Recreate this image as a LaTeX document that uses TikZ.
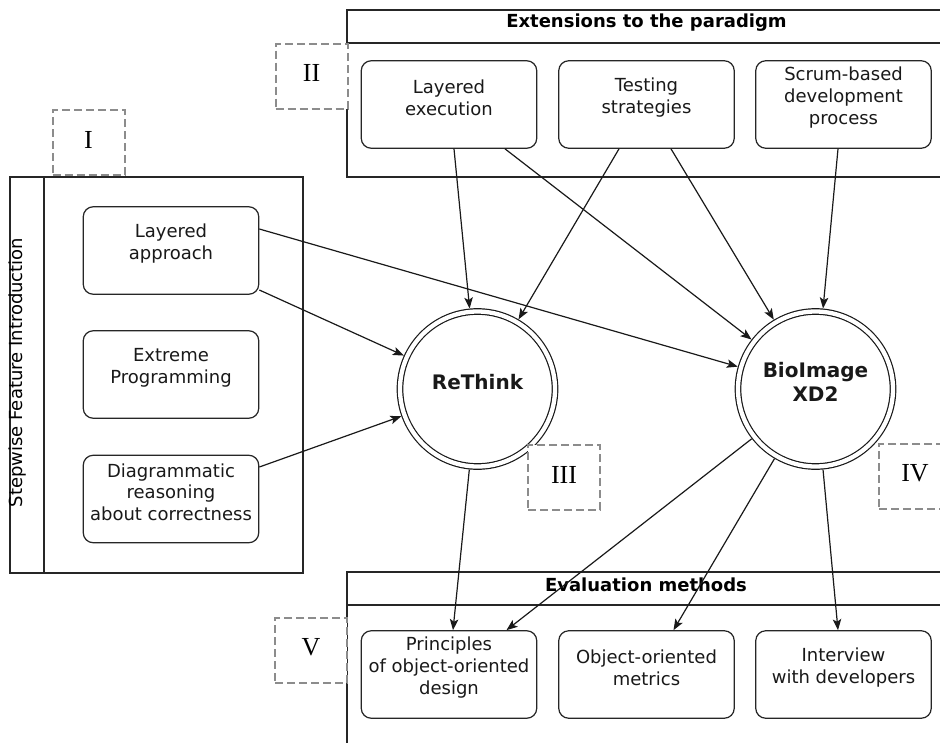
\documentclass[tikz,border=0pt]{standalone}
\usepackage{fontspec}
\setmainfont{DejaVu Sans}
\newfontfamily\numeralfont{Liberation Serif}
\usetikzlibrary{arrows.meta}

\begin{document}
\begin{tikzpicture}[x=1pt,y=-1pt,
  frame/.style={draw=black!85, line width=1.3pt},
  stepbox/.style={draw=black!85, line width=1.2pt, rounded corners=10pt, fill=white,
    minimum width=175.5pt, minimum height=87.5pt, inner sep=0pt},
  boxtext/.style={align=center, font=\fontsize{18pt}{21.7pt}\selectfont,
    text=black!90, yshift=7pt, inner sep=0pt},
  hub/.style={circle, draw=black!90, line width=1.2pt, double=white,
    double distance=4.3pt, minimum size=155pt, inner sep=0pt, outer sep=3.4pt},
  hubtext/.style={align=center, font=\fontsize{20pt}{24.7pt}\selectfont\bfseries,
    text=black!90, yshift=7pt, inner sep=0pt},
  head/.style={font=\fontsize{18pt}{21.7pt}\selectfont\bfseries, anchor=base, inner sep=0pt},
  marker/.style={draw=gray!90, dash pattern=on 8pt off 4pt, line width=2pt, fill=white,
    minimum width=72pt, minimum height=65pt, inner sep=0pt},
  markertext/.style={font=\numeralfont\fontsize{26pt}{30pt}\selectfont, yshift=3pt, inner sep=0pt},
  link/.style={-{Stealth[length=11pt,width=8.5pt,inset=2.5pt]}, line width=1.2pt, draw=black!90}
]
\useasboundingbox (0,0) rectangle (940,742);
\clip (0,0) rectangle (940,742);

% swimlane frames
\draw[frame] (347,10) rectangle (950,177);
\draw[frame] (347,43) -- (950,43);
\node[head] (exttitle) at (646.5,27.5) {Extensions to the paradigm};

\draw[frame] (10,177) rectangle (303,573);
\draw[frame] (44,177) -- (44,573);
\node[font=\fontsize{18pt}{21.7pt}\selectfont, rotate=90, anchor=base, inner sep=0pt]
  (sfititle) at (23,372.5) {Stepwise Feature Introduction};

\draw[frame] (347,572) rectangle (950,760);
\draw[frame] (347,605) -- (950,605);
\node[head] (evaltitle) at (646,591) {Evaluation methods};

% topic boxes
\node[stepbox, label={[boxtext]center:{Layered\\execution}}] (le) at (449,104.5) {};
\node[stepbox, label={[boxtext]center:{Testing\\strategies}}] (ts) at (646.5,104.5) {};
\node[stepbox, label={[boxtext]center:{Scrum-based\\development\\process}}] (sc) at (843.5,104.5) {};

\node[stepbox, label={[boxtext]center:{Layered\\approach}}] (la) at (171,250.5) {};
\node[stepbox, label={[boxtext]center:{Extreme\\Programming}}] (xp) at (171,374.5) {};
\node[stepbox, label={[boxtext]center:{Diagrammatic\\reasoning\\about correctness}}] (dg) at (171,499) {};

\node[stepbox, label={[boxtext]center:{Principles\\of object-oriented\\design}}] (pr) at (449,674.5) {};
\node[stepbox, label={[boxtext]center:{Object-oriented\\metrics}}] (om) at (646.5,674.5) {};
\node[stepbox, label={[boxtext]center:{Interview\\with developers}}] (iv) at (843.5,674.5) {};

% projects
\node[hub, label={[hubtext]center:ReThink}] (rt) at (477.5,389) {};
\node[hub, label={[hubtext]center:{BioImage\\XD2}}] (bx) at (815.5,389) {};

% influences
\draw[link] ([xshift=5pt]le.south) -- (rt);
\draw[link] ([xshift=56pt]le.south) -- (bx);
\draw[link] ([xshift=-27.5pt]ts.south) -- (rt);
\draw[link] ([xshift=24.5pt]ts.south) -- (bx);
\draw[link] ([xshift=-5.5pt]sc.south) -- (bx);
\draw[link] ([yshift=21.5pt]la.east) -- (bx);
\draw[link] ([yshift=-39.5pt]la.east) -- (rt);
\draw[link] ([yshift=32pt]dg.east) -- (rt);
\draw[link] (rt) -- ([xshift=4pt]pr.north);
\draw[link] (bx) -- ([xshift=57.5pt]pr.north);
\draw[link] (bx) -- ([xshift=27pt]om.north);
\draw[link] (bx) -- ([xshift=-5.5pt]iv.north);

% section markers
\node[marker, label={[markertext]center:I}] (m1) at (88.5,142.5) {};
\node[marker, label={[markertext]center:II}] (m2) at (311.5,76) {};
\node[marker, label={[markertext]center:III}] (m3) at (564,477.5) {};
\node[marker, label={[markertext]center:IV}] (m4) at (915,476.5) {};
\node[marker, label={[markertext]center:V}] (m5) at (311,650.5) {};
\end{tikzpicture}
\end{document}
